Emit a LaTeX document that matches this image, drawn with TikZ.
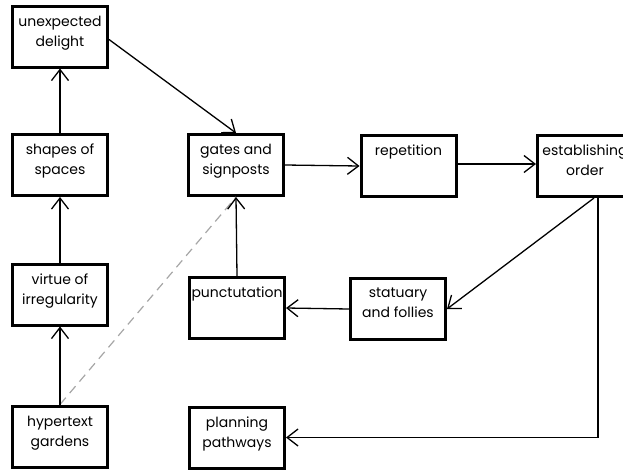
\documentclass[tikz,border=0pt]{standalone}
\usepackage{fontspec}
\setmainfont{Poppins}
\usetikzlibrary{arrows.meta}

\tikzset{
  box/.style={draw, line width=3pt, minimum width=95pt, minimum height=61pt, inner sep=0pt},
  boxtext/.style={anchor=north, inner sep=0pt, align=center, font=\fontsize{14}{20}\selectfont},
  link/.style={line width=1.3pt, -{Straight Barb[length=11pt, width=17pt, line width=1.3pt]}},
  hint/.style={line width=1.2pt, draw=black!35, dash pattern=on 9pt off 6pt}
}

\begin{document}
\begin{tikzpicture}[x=1pt, y=-1pt]
  \useasboundingbox (0,0) rectangle (623,471);
  \clip (0,0) rectangle (623,471);

  % boxes
  \node[box] (ud)  at (60,36.5)  {};
  \node[box] (ss)  at (60,165)   {};
  \node[box] (vi)  at (60,294.5) {};
  \node[box] (hg)  at (60,436.5) {};
  \node[box] (gs)  at (236,165)  {};
  \node[box] (rep) at (408.5,166) {};
  \node[box] (eo)  at (585,166)  {};
  \node[box] (sf)  at (398,309)  {};
  \node[box] (pu)  at (237,308)  {};
  \node[box] (pp)  at (237,437.5) {};

  % captions, set near the top edge of each box
  \node[boxtext] (tud)  at ([yshift=-11pt]ud.north)  {unexpected\\delight};
  \node[boxtext] (tss)  at ([yshift=-11pt]ss.north)  {shapes of\\spaces};
  \node[boxtext] (tvi)  at ([yshift=-11pt]vi.north)  {virtue of\\irregularity};
  \node[boxtext] (thg)  at ([yshift=-11pt]hg.north)  {hypertext\\gardens};
  \node[boxtext] (tgs)  at ([yshift=-11pt]gs.north)  {gates and\\signposts};
  \node[boxtext] (trep) at ([yshift=-11pt]rep.north) {repetition};
  \node[boxtext] (teo)  at ([yshift=-11pt]eo.north)  {establishing\\order};
  \node[boxtext] (tsf)  at ([yshift=-11pt]sf.north)  {statuary\\and follies};
  \node[boxtext] (tpu)  at ([yshift=-11pt]pu.north)  {punctutation};
  \node[boxtext] (tpp)  at ([yshift=-11pt]pp.north)  {planning\\pathways};

  % connectors
  \draw[hint] (hg.north) -- (gs.south);
  \draw[link] (hg.north) -- (vi.south);
  \draw[link] (vi.north) -- (ss.south);
  \draw[link] (ss.north) -- (ud.south);
  \draw[link] ([yshift=-3pt]ud.east) -- (gs.north);
  \draw[link] (gs.east) -- (rep.west);
  \draw[link] ([yshift=2pt]rep.east) -- ([yshift=2pt]eo.west);
  \draw[link] ([xshift=9pt]eo.south) -- (sf.east);
  \draw[link] (sf.west) -- (pu.east);
  \draw[link] (pu.north) -- (gs.south);
  \coordinate (bend) at ([xshift=13pt]eo.south |- pp.east);
  \draw[link] ([xshift=13pt]eo.south) -- (bend) -- (pp.east);
\end{tikzpicture}
\end{document}
